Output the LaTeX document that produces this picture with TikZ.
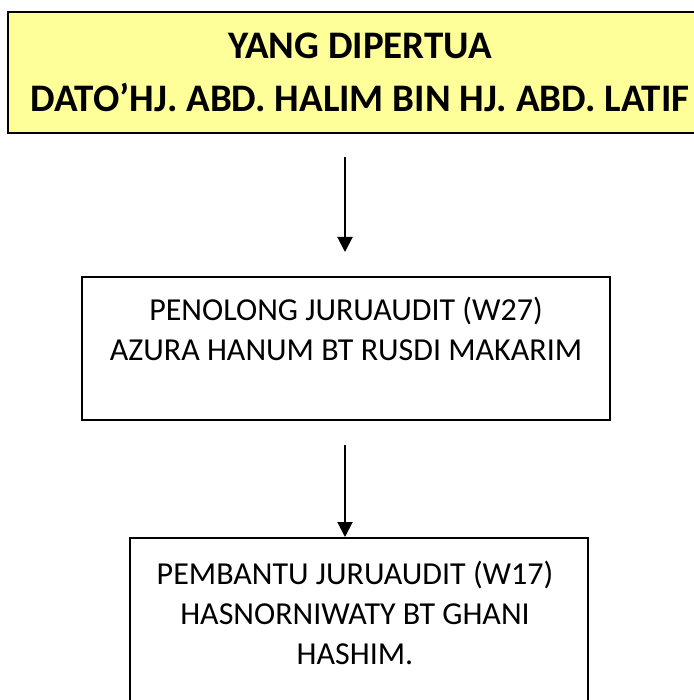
\documentclass[tikz,border=0pt]{standalone}
\usepackage{fontspec}
\setmainfont{Carlito}
\usetikzlibrary{arrows.meta,positioning}
\definecolor{headyellow}{HTML}{FFFF99}
\tikzset{
  box/.style={draw=black,line width=2pt,minimum width=#1,inner sep=0pt},
  boxtext/.style={anchor=base,align=center,font=\fontsize{32}{40}\selectfont},
  link/.style={line width=2pt,-{Triangle[width=15pt,length=15pt]}}
}
\begin{document}
\begin{tikzpicture}[x=1pt,y=-1pt]
  \useasboundingbox (0,0) rectangle (693,700);
  % head of office
  \node[box=702pt,minimum height=121pt,fill=headyellow] (head) at (359,72.5) {};
  \node[boxtext,font=\fontsize{39}{53}\selectfont\bfseries] (headtxt) at (360,112)
    {YANG DIPERTUA\\DATO'HJ. ABD. HALIM BIN HJ. ABD. LATIF};
  % assistant auditor W27
  \node[box=528pt,minimum height=143pt] (penolong) at (346,348.5) {};
  \node[boxtext] (penolongtxt) at (346,360)
    {PENOLONG JURUAUDIT (W27)\\AZURA HANUM BT RUSDI MAKARIM};
  % assistant auditor W17
  \node[box=458pt,minimum height=240pt] (pembantu) at (359,658) {};
  \node[boxtext] (pembantutxt) at (355,664)
    {PEMBANTU JURUAUDIT (W17)\\HASNORNIWATY BT GHANI\\HASHIM.};
  % arrows
  \coordinate (a1) at (345,157);
  \coordinate (b1) at (345,252);
  \coordinate (a2) at (345,445);
  \draw[link] (a1) -- (b1);
  \draw[link] (a2) -- (a2 |- pembantu.north);
\end{tikzpicture}
\end{document}
